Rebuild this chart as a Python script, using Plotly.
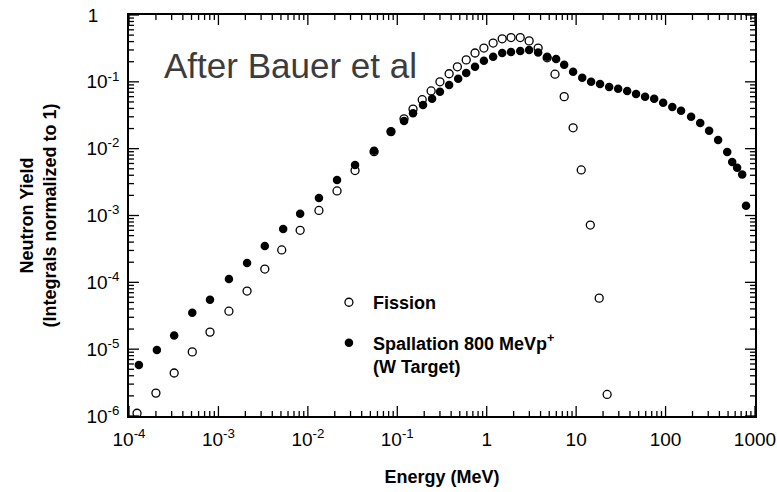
import plotly.graph_objects as go

# ---- data ----
fission_energy = [1.23e-4, 2.0e-4, 3.2e-4, 5.1e-4, 8.05e-4, 1.31e-3, 2.09e-3, 3.3e-3, 5.1e-3,
                  8.2e-3, 1.33e-2, 2.12e-2, 3.37e-2, 5.5e-2, 8.5e-2, 0.119, 0.150, 0.19, 0.239,
                  0.30, 0.38, 0.47, 0.59, 0.74, 0.93, 1.18, 1.49, 1.87, 2.37, 2.98, 3.76, 4.74,
                  5.8, 7.35, 9.25, 11.4, 14.4, 18.1, 22.2]
fission_yield = [1.1e-6, 2.2e-6, 4.4e-6, 9.1e-6, 1.8e-5, 3.7e-5, 7.4e-5, 1.58e-4, 3.05e-4,
                 6.0e-4, 1.19e-3, 2.33e-3, 4.7e-3, 9.0e-3, 1.8e-2, 2.8e-2, 3.9e-2, 5.4e-2, 7.3e-2,
                 0.10, 0.132, 0.168, 0.213, 0.27, 0.32, 0.38, 0.44, 0.46, 0.46, 0.41, 0.32, 0.229,
                 0.13, 0.060, 0.0205, 4.8e-3, 7.2e-4, 5.8e-5, 2.1e-6]

spall_energy = [1.29e-4, 2.05e-4, 3.2e-4, 5.1e-4, 8.05e-4, 1.31e-3, 2.09e-3, 3.3e-3, 5.3e-3,
                8.2e-3, 1.33e-2, 2.12e-2, 3.37e-2, 5.5e-2, 8.5e-2, 0.119, 0.150, 0.194, 0.245,
                0.30, 0.38, 0.48, 0.59, 0.74, 0.93, 1.18, 1.49, 1.87, 2.37, 2.98, 3.76, 4.74,
                5.97, 7.35, 9.25, 11.7, 14.7, 18.5, 23.4, 29.5, 37.2, 46.8, 59, 74.6, 94, 119,
                149, 193, 244, 307, 387, 489, 556, 631, 719, 794]
spall_yield = [5.8e-6, 9.7e-6, 1.6e-5, 3.5e-5, 5.5e-5, 1.12e-4, 1.95e-4, 3.5e-4, 6.3e-4,
               1.06e-3, 1.83e-3, 3.4e-3, 5.7e-3, 9.3e-3, 1.79e-2, 2.6e-2, 3.4e-2, 4.5e-2, 5.6e-2,
               7.1e-2, 9.0e-2, 0.111, 0.136, 0.168, 0.206, 0.237, 0.27, 0.28, 0.29, 0.30, 0.275, 0.237,
               0.22, 0.18, 0.141, 0.115, 0.10, 0.093, 0.084, 0.0785, 0.073, 0.066, 0.060, 0.056,
               0.0485, 0.042, 0.037, 0.030, 0.0243, 0.0185, 0.0135, 0.0089, 0.0063, 0.0052,
               0.0041, 0.0014]

NB = "\u00a0"
x_tickvals = [1e-4, 1e-3, 1e-2, 1e-1, 1, 10, 100, 1000]
x_ticktext = ["10<sup>-4</sup>", "10<sup>-3</sup>", "10<sup>-2</sup>", "10<sup>-1</sup>",
              "1", "10", "100", "1000"]
y_tickvals = [1e-6, 1e-5, 1e-4, 1e-3, 1e-2, 1e-1, 1]
y_ticktext = ["10<sup>-6</sup>", "10<sup>-5</sup>", "10<sup>-4</sup>", "10<sup>-3</sup>",
              "10<sup>-2</sup>", "10<sup>-1</sup>", "1" + NB * 4]

FONT = "Liberation Sans, Arial, Helvetica, sans-serif"

# plot-area size in px (figure minus margins) used to convert tick lengths to domain fractions
PLOT_W, PLOT_H = 626, 401
MAJOR_LEN, MINOR_LEN = 10, 5


def minors(majors):
    out = []
    for m in majors[:-1]:
        for k in range(2, 10):
            out.append(k * m)
    return out


fig = go.Figure()
fig.add_trace(go.Scatter(
    x=fission_energy, y=fission_yield, mode="markers", name="Fission",
    legendgroup="f",
    marker=dict(symbol="circle-open", size=8, color="black", line=dict(width=1.3, color="black")),
    cliponaxis=False,
))
fig.add_trace(go.Scatter(
    x=spall_energy, y=spall_yield, mode="markers",
    name="Spallation 800 MeVp<sup>+</sup><br>(W Target)",
    legendgroup="s",
    marker=dict(symbol="circle", size=8.5, color="black"),
    cliponaxis=False,
))

# inside tick marks on all four sides (drawn as shapes at the tick values)
tick_line = dict(color="black", width=1.3)
for vals, ln in ((x_tickvals, MAJOR_LEN), (minors(x_tickvals), MINOR_LEN)):
    f = ln / PLOT_H
    for v in vals:
        fig.add_shape(type="line", xref="x", yref="y domain", x0=v, x1=v, y0=0, y1=f,
                      line=tick_line, layer="above")
        fig.add_shape(type="line", xref="x", yref="y domain", x0=v, x1=v, y0=1, y1=1 - f,
                      line=tick_line, layer="above")
for vals, ln in ((y_tickvals, MAJOR_LEN), (minors(y_tickvals), MINOR_LEN)):
    f = ln / PLOT_W
    for v in vals:
        fig.add_shape(type="line", xref="x domain", yref="y", x0=0, x1=f, y0=v, y1=v,
                      line=tick_line, layer="above")
        fig.add_shape(type="line", xref="x domain", yref="y", x0=1, x1=1 - f, y0=v, y1=v,
                      line=tick_line, layer="above")

tickfont = dict(family=FONT, size=19, color="black")
titlefont = dict(family=FONT, size=18, color="black")

fig.update_layout(
    xaxis=dict(type="log", range=[-4, 3], automargin=False,
               showline=True, linecolor="black", linewidth=1.5, mirror=True,
               ticks="", showgrid=False, zeroline=False, tickfont=tickfont,
               tickmode="array", tickvals=x_tickvals, ticktext=x_ticktext,
               ticklabelstandoff=5, ticklabeloverflow="allow",
               title=dict(text="<b>Energy (MeV)</b>", font=titlefont, standoff=22)),
    yaxis=dict(type="log", range=[-6, 0], automargin=False,
               showline=True, linecolor="black", linewidth=1.5, mirror=True,
               ticks="", showgrid=False, zeroline=False, tickfont=tickfont,
               tickmode="array", tickvals=y_tickvals, ticktext=y_ticktext,
               ticklabelstandoff=4, ticklabeloverflow="allow",
               title=dict(text="<b>Neutron Yield<br>(Integrals normalized to 1)</b>",
                          font=titlefont, standoff=25)),
)

fig.add_annotation(text="After Bauer et al", xref="paper", yref="paper", x=0.052, y=0.875,
                   xanchor="left", yanchor="middle", showarrow=False,
                   font=dict(family=FONT, size=35, color="#3c3c3c"))

fig.update_layout(
    width=777, height=492,
    margin=dict(l=129, r=22, t=15, b=76),
    paper_bgcolor="white", plot_bgcolor="white",
    font=dict(family=FONT, color="black"),
    showlegend=True,
    legend=dict(x=0.313, y=0.329, xanchor="left", yanchor="top", bgcolor="rgba(0,0,0,0)",
                font=dict(family=FONT, size=18, color="black", weight="bold"),
                itemwidth=38, tracegroupgap=14, valign="top"),
)

# remove the browser's default 8 px body margin so the figure fills the window exactly
fig.write_html("out.html", config={"displayModeBar": False},
               post_script="document.body.style.margin='0';")
